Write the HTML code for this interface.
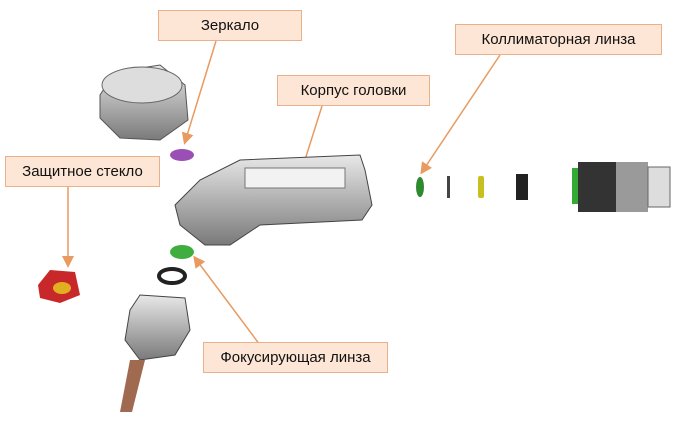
<!DOCTYPE html>
<html><head><meta charset="utf-8"><style>
body{margin:0;width:700px;height:422px;background:#fff;overflow:hidden;font-family:"Liberation Sans",sans-serif}
.l{position:absolute;background:#fde6d5;border:1px solid #eab08a;font-size:15px;color:#111;text-align:center;box-sizing:border-box;height:31px;line-height:29px}
svg{position:absolute;left:0;top:0}
</style></head><body>
<svg width="700" height="422">
<defs>
<linearGradient id="g" x1="0" y1="0" x2="0" y2="1"><stop offset="0" stop-color="#e8e8e8"/><stop offset="1" stop-color="#7a7a7a"/></linearGradient>
<marker id="a" markerWidth="8" markerHeight="8" refX="6" refY="4" orient="auto"><path d="M0,0 L8,4 L0,8z" fill="#e99a60"/></marker>
</defs>
<g stroke="#e99a60" stroke-width="1.5" fill="none">
<line x1="216" y1="41" x2="185" y2="142" marker-end="url(#a)"/>
<line x1="322" y1="106" x2="298" y2="182" marker-end="url(#a)"/>
<line x1="500" y1="55" x2="422" y2="172" marker-end="url(#a)"/>
<line x1="68" y1="187" x2="68" y2="265" marker-end="url(#a)"/>
<line x1="260" y1="345" x2="195" y2="258" marker-end="url(#a)"/>
</g>
<!-- mirror housing -->
<path d="M100,95 L115,72 L160,65 L185,85 L188,120 L160,140 L120,138 L100,118z" fill="url(#g)" stroke="#555"/>
<ellipse cx="142" cy="85" rx="40" ry="18" fill="#ddd" stroke="#666"/>
<ellipse cx="182" cy="155" rx="12" ry="6" fill="#9a4fb5"/>
<!-- body -->
<path d="M175,205 L200,180 L240,160 L360,155 L365,170 L372,205 L362,220 L260,225 L230,245 L205,245 L180,225z" fill="url(#g)" stroke="#444"/>
<rect x="245" y="168" width="100" height="20" fill="#f2f2f2" stroke="#777"/>
<!-- focus lens -->
<ellipse cx="182" cy="252" rx="12" ry="7" fill="#3fae3f"/>
<ellipse cx="172" cy="276" rx="13" ry="7" fill="none" stroke="#222" stroke-width="4"/>
<path d="M130,310 L140,295 L185,298 L190,330 L175,355 L140,360 L125,340z" fill="url(#g)" stroke="#444"/>
<path d="M130,360 L145,360 L132,412 L120,412z" fill="#a06a50"/>
<!-- protective glass -->
<path d="M38,285 L50,270 L75,272 L80,295 L60,303 L40,298z" fill="#c8282a"/>
<ellipse cx="62" cy="288" rx="9" ry="6" fill="#e0b020"/>
<!-- collimator -->
<ellipse cx="420" cy="187" rx="4" ry="10" fill="#2e8a2e"/>
<rect x="447" y="176" width="3" height="22" fill="#444"/>
<rect x="478" y="176" width="6" height="22" rx="2" fill="#c8c020"/>
<rect x="516" y="174" width="12" height="26" fill="#222"/>
<rect x="572" y="168" width="7" height="36" fill="#3a3"/>
<rect x="578" y="162" width="38" height="50" fill="#333"/>
<rect x="616" y="162" width="32" height="50" fill="#9a9a9a"/>
<rect x="648" y="167" width="22" height="40" fill="#ddd" stroke="#666"/>
</svg>
<div class="l" style="left:158px;top:10px;width:144px">Зеркало</div>
<div class="l" style="left:277px;top:75px;width:153px">Корпус головки</div>
<div class="l" style="left:455px;top:24px;width:207px">Коллиматорная линза</div>
<div class="l" style="left:5px;top:156px;width:155px">Защитное стекло</div>
<div class="l" style="left:203px;top:342px;width:185px">Фокусирующая линза</div>
</body></html>
